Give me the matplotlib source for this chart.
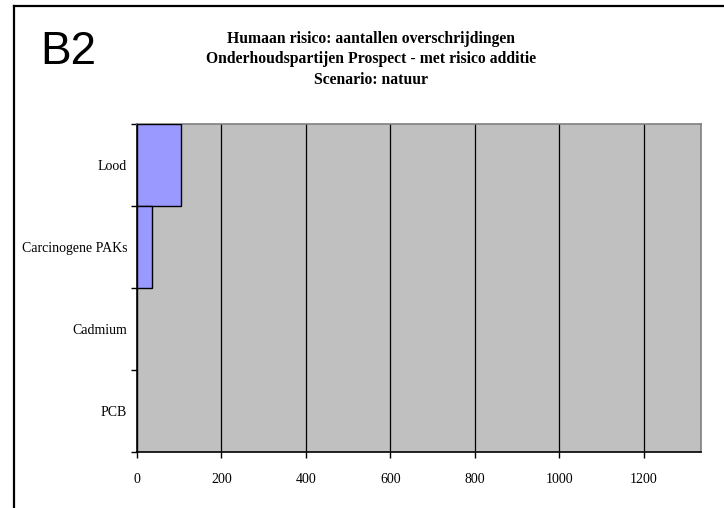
import matplotlib
matplotlib.use("Agg")
import matplotlib.pyplot as plt
from matplotlib.lines import Line2D
from matplotlib.ticker import FixedLocator, NullFormatter

categories = ["Lood", "Carcinogene PAKs", "Cadmium", "PCB"]
values = [105, 36, 0, 0]
x_ticks = [0, 200, 400, 600, 800, 1000, 1200]
x_max = 1335

title_lines = [
    "Humaan risico: aantallen overschrijdingen",
    "Onderhoudspartijen Prospect - met risico additie",
    "Scenario: natuur",
]

W, H = 724, 508
fig = plt.figure(figsize=(W / 100, H / 100), dpi=100)
fig.patch.set_facecolor("white")

serif = ["Liberation Serif", "DejaVu Serif"]

# frame lines along the top and left of the figure
fig.add_artist(Line2D([13.5 / W, 1.0], [1 - 5.5 / H, 1 - 5.5 / H],
                      transform=fig.transFigure, color="black", lw=1.6))
fig.add_artist(Line2D([13.5 / W, 13.5 / W], [0.0, 1 - 5.5 / H],
                      transform=fig.transFigure, color="black", lw=1.6))

fig.text(40 / W, 1 - 52 / H, "B2", family=["Liberation Sans", "DejaVu Sans"],
         fontsize=33, ha="left", va="center")

for line, yc in zip(title_lines, [39, 59, 80]):
    fig.text(371 / W, 1 - yc / H, line, family=serif, fontsize=11.3,
             fontweight="bold", ha="center", va="center")

ax = fig.add_axes([137 / W, 1 - 452.3 / H, (701 - 137) / W, (452.3 - 124.3) / H])
ax.set_facecolor("#C0C0C0")

ypos = list(range(len(categories)))
ax.barh(ypos, values, height=1.0, color="#9999FF", edgecolor="black",
        linewidth=1.0, zorder=3)

ax.set_xlim(0, x_max)
ax.set_ylim(len(categories) - 0.5, -0.5)

for xv in x_ticks[1:]:
    ax.axvline(xv, color="black", lw=0.9, zorder=2)

ax.set_xticks(x_ticks)
ax.set_xticklabels([str(v) for v in x_ticks], family=serif, fontsize=10)
ax.tick_params(axis="x", direction="out", length=4, width=1, pad=11, colors="black")

boundaries = [i - 0.5 for i in range(len(categories) + 1)]
ax.yaxis.set_major_locator(FixedLocator(boundaries))
ax.yaxis.set_major_formatter(NullFormatter())
ax.yaxis.set_minor_locator(FixedLocator(ypos))
ax.set_yticklabels(categories, minor=True, family=serif, fontsize=10)
ax.tick_params(axis="y", which="major", direction="out", length=4, width=1)
ax.tick_params(axis="y", which="minor", length=0, pad=7)

ax.spines["left"].set_color("black")
ax.spines["bottom"].set_color("black")
ax.spines["left"].set_linewidth(1.2)
ax.spines["bottom"].set_linewidth(1.2)
ax.spines["top"].set_color("#808080")
ax.spines["right"].set_color("#808080")
ax.spines["top"].set_linewidth(1.2)
ax.spines["right"].set_linewidth(1.2)

fig.savefig("out.png", dpi=100)
